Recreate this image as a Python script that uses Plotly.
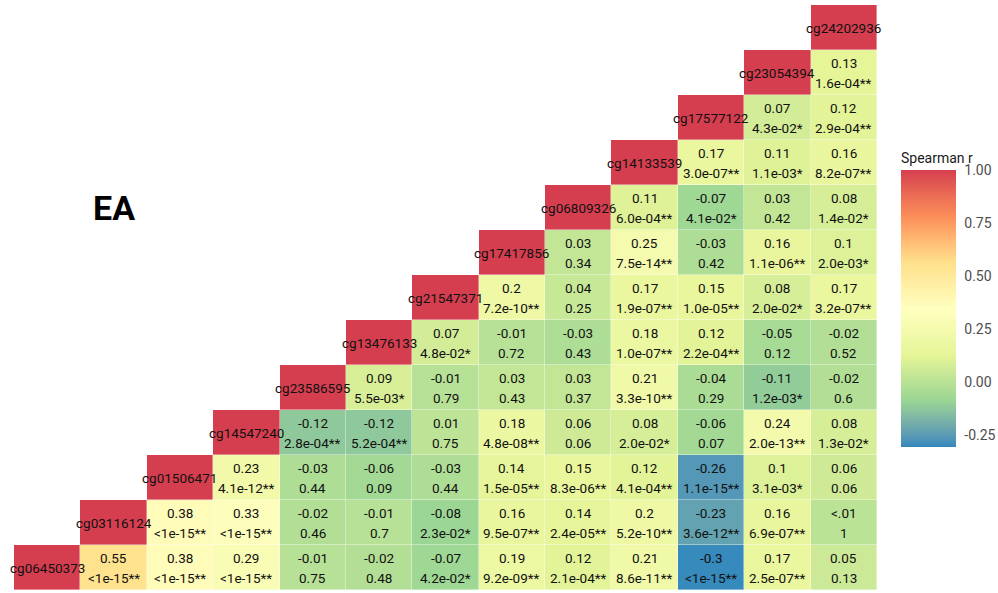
import numpy as np
import plotly.graph_objects as go

# CpG sites, ordered from bottom-left to top-right along the diagonal
cpgs = ["cg06450373", "cg03116124", "cg01506471", "cg14547240", "cg23586595",
        "cg13476133", "cg21547371", "cg17417856", "cg06809326", "cg14133539",
        "cg17577122", "cg23054394", "cg24202936"]

# Spearman r of each site with every later site (row i -> columns i+1 .. 12)
r_rows = [
    [0.55, 0.38, 0.29, -0.01, -0.02, -0.07, 0.19, 0.12, 0.21, -0.30, 0.17, 0.05],
    [0.38, 0.33, -0.02, -0.01, -0.08, 0.16, 0.14, 0.20, -0.23, 0.16, 0.004],
    [0.23, -0.03, -0.06, -0.03, 0.14, 0.15, 0.12, -0.26, 0.10, 0.06],
    [-0.12, -0.12, 0.01, 0.18, 0.06, 0.08, -0.06, 0.24, 0.08],
    [0.09, -0.01, 0.03, 0.03, 0.21, -0.04, -0.11, -0.02],
    [0.07, -0.01, -0.03, 0.18, 0.12, -0.05, -0.02],
    [0.20, 0.04, 0.17, 0.15, 0.08, 0.17],
    [0.03, 0.25, -0.03, 0.16, 0.10],
    [0.11, -0.07, 0.03, 0.08],
    [0.17, 0.11, 0.16],
    [0.07, 0.12],
    [0.13],
]

# matching p-value labels (* p < 0.05, ** p < 0.001)
p_rows = [
    ["<1e-15**", "<1e-15**", "<1e-15**", "0.75", "0.48", "4.2e-02*", "9.2e-09**",
     "2.1e-04**", "8.6e-11**", "<1e-15**", "2.5e-07**", "0.13"],
    ["<1e-15**", "<1e-15**", "0.46", "0.7", "2.3e-02*", "9.5e-07**", "2.4e-05**",
     "5.2e-10**", "3.6e-12**", "6.9e-07**", "1"],
    ["4.1e-12**", "0.44", "0.09", "0.44", "1.5e-05**", "8.3e-06**", "4.1e-04**",
     "1.1e-15**", "3.1e-03*", "0.06"],
    ["2.8e-04**", "5.2e-04**", "0.75", "4.8e-08**", "0.06", "2.0e-02*", "0.07",
     "2.0e-13**", "1.3e-02*"],
    ["5.5e-03*", "0.79", "0.43", "0.37", "3.3e-10**", "0.29", "1.2e-03*", "0.6"],
    ["4.8e-02*", "0.72", "0.43", "1.0e-07**", "2.2e-04**", "0.12", "0.52"],
    ["7.2e-10**", "0.25", "1.9e-07**", "1.0e-05**", "2.0e-02*", "3.2e-07**"],
    ["0.34", "7.5e-14**", "0.42", "1.1e-06**", "2.0e-03*"],
    ["6.0e-04**", "4.1e-02*", "0.42", "1.4e-02*"],
    ["3.0e-07**", "1.1e-03*", "8.2e-07**"],
    ["4.3e-02*", "2.9e-04**"],
    ["1.6e-04**"],
]

cbar_ticks = [-0.25, 0.0, 0.25, 0.50, 0.75, 1.00]
group_label = "EA"


def fmt_r(v):
    if abs(v) < 0.01:
        return "&lt;.01"
    return f"{round(v, 2):.2f}".rstrip("0").rstrip(".")


# ---- Spectral (distiller, 7 classes) interpolated in CIE Lab ----
spectral7 = ["#3288BD", "#99D594", "#E6F598", "#FFFFBF", "#FEE08B", "#FC8D59", "#D53E4F"]
_M = np.array([[0.4124564, 0.3575761, 0.1804375],
               [0.2126729, 0.7151522, 0.0721750],
               [0.0193339, 0.1191920, 0.9503041]])
_WHITE = _M.sum(axis=1)


def _to_lab(h):
    rgb = np.array([int(h[i:i + 2], 16) for i in (1, 3, 5)]) / 255.0
    lin = np.where(rgb <= 0.04045, rgb / 12.92, ((rgb + 0.055) / 1.055) ** 2.4)
    xyz = _M @ lin / _WHITE
    f = np.where(xyz > 216 / 24389, np.cbrt(xyz), (24389 / 27 * xyz + 16) / 116)
    return np.array([116 * f[1] - 16, 500 * (f[0] - f[1]), 200 * (f[1] - f[2])])


def _from_lab(lab):
    L, a, b = lab
    fy = (L + 16) / 116
    f = np.array([fy + a / 500, fy, fy - b / 200])
    xyz = np.where(f ** 3 > 216 / 24389, f ** 3, (116 * f - 16) / (24389 / 27)) * _WHITE
    lin = np.clip(np.linalg.solve(_M, xyz), 0, 1)
    rgb = np.where(lin <= 0.0031308, 12.92 * lin, 1.055 * lin ** (1 / 2.4) - 0.055)
    r, g, bb = (np.clip(rgb, 0, 1) * 255).round().astype(int)
    return f"rgb({r},{g},{bb})"


labs = [_to_lab(c) for c in spectral7]
colorscale = []
n_stops = 61
for k in range(n_stops):
    t = k / (n_stops - 1)
    pos = t * (len(labs) - 1)
    i0 = min(int(np.floor(pos)), len(labs) - 2)
    w = pos - i0
    colorscale.append([t, _from_lab(labs[i0] * (1 - w) + labs[i0 + 1] * w)])

# ---- build the upper-triangular matrix ----
n = len(cpgs)
z = [[None] * n for _ in range(n)]
for i in range(n):
    z[i][i] = 1.0
    for k, v in enumerate(r_rows[i] if i < len(r_rows) else []):
        z[i][i + 1 + k] = v

all_r = [v for row in r_rows for v in row]
zmin = min(min(all_r), -0.305)
zmax = 1.0

# ---- page geometry (pixels) ----
W, H = 998, 593
ML, MR, MT, MB = 14, 121, 5, 3
PW, PH = W - ML - MR, H - MT - MB
BAR_L, BAR_W = 901, 55          # colour bar left edge / thickness
BAR_T, BAR_B = 169, 447         # colour bar top / bottom
TITLE_H = 20


def px_x(px):
    return (px - ML) / PW


def px_y(py):
    return 1 - (py - MT) / PH


fig = go.Figure()
fig.add_trace(go.Heatmap(
    z=z, x=list(range(n)), y=list(range(n)),
    colorscale=colorscale, zmin=zmin, zmax=zmax,
    xgap=0.4, ygap=0.4, hoverongaps=False,
    colorbar=dict(
        title=dict(text="Spearman r", side="top", font=dict(size=14, color="#1a1a1a")),
        tickvals=cbar_ticks, ticktext=[f"{t:.2f}" for t in cbar_ticks],
        tickfont=dict(size=14, color="#4d4d4d"),
        ticks="outside", tickcolor="rgba(255,255,255,0)", ticklen=6,
        outlinewidth=0, thickness=BAR_W, thicknessmode="pixels",
        len=BAR_B - BAR_T + TITLE_H, lenmode="pixels",
        x=px_x(BAR_L), xanchor="left", xpad=0,
        y=px_y((BAR_T - TITLE_H + BAR_B) / 2), yanchor="middle", ypad=0,
    ),
))

# white tick marks drawn inside both edges of the colour bar
shapes = []
for t in cbar_ticks:
    py = BAR_T + (zmax - t) / (zmax - zmin) * (BAR_B - BAR_T)
    for x0, x1 in ((BAR_L, BAR_L + 11), (BAR_L + BAR_W - 11, BAR_L + BAR_W)):
        shapes.append(dict(type="line", xref="paper", yref="paper",
                           x0=px_x(x0), x1=px_x(x1), y0=px_y(py), y1=px_y(py),
                           line=dict(color="rgba(255,255,255,0.8)", width=1)))

annotations = []
txt_font = dict(family="Roboto", size=13.5, color="#111111")
for i in range(n):
    annotations.append(dict(x=i, y=i, text=cpgs[i], showarrow=False, font=txt_font,
                            xref="x", yref="y"))
    for k, v in enumerate(r_rows[i] if i < len(r_rows) else []):
        j = i + 1 + k
        annotations.append(dict(x=j, y=i, text=fmt_r(v), showarrow=False, font=txt_font,
                                xref="x", yref="y", yshift=10))
        annotations.append(dict(x=j, y=i, text=p_rows[i][k].replace("<", "&lt;"),
                                showarrow=False, font=txt_font,
                                xref="x", yref="y", yshift=-10))

annotations.append(dict(x=1, y=8, text=f"<b>{group_label}</b>", showarrow=False,
                        xref="x", yref="y",
                        font=dict(family="Roboto", size=34, color="black")))

fig.update_layout(
    width=W, height=H,
    margin=dict(l=ML, r=MR, t=MT, b=MB, autoexpand=False),
    paper_bgcolor="white", plot_bgcolor="white",
    font=dict(family="Roboto"),
    xaxis=dict(range=[-0.5, n - 0.5], visible=False, fixedrange=True),
    yaxis=dict(range=[-0.5, n - 0.5], visible=False, fixedrange=True),
    annotations=annotations, shapes=shapes,
)

fig.write_html("out.html")
